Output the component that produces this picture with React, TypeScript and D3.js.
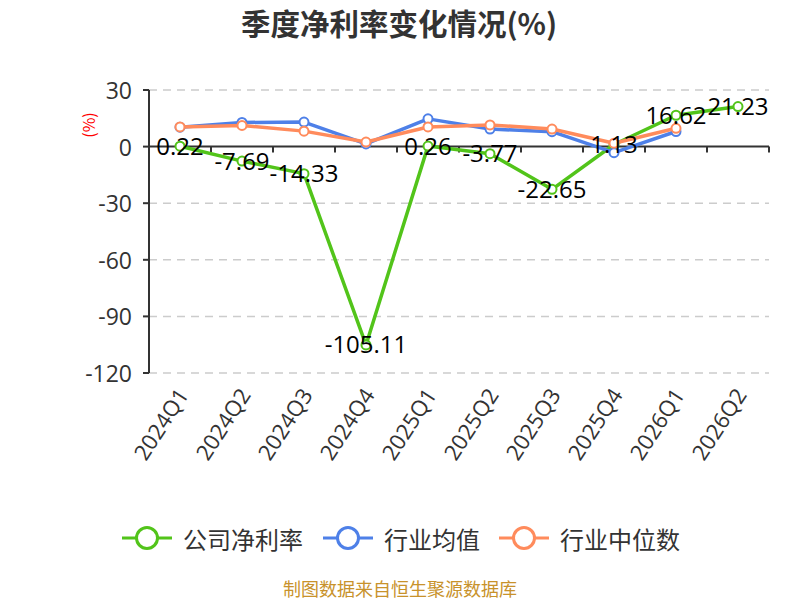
import * as d3 from "d3";

const QUARTERS = ["2024Q1", "2024Q2", "2024Q3", "2024Q4", "2025Q1", "2025Q2", "2025Q3", "2025Q4", "2026Q1", "2026Q2"];
const COMPANY = [0.22, -7.69, -14.33, -105.11, 0.26, -3.77, -22.65, 1.13, 16.62, 21.23];
const INDUSTRY_AVG: (number | null)[] = [10.3, 12.8, 13.0, 1.4, 14.7, 9.3, 7.9, -3.2, 8.0, null];
const INDUSTRY_MEDIAN: (number | null)[] = [10.4, 11.2, 8.2, 2.4, 10.4, 11.5, 9.3, 1.8, 9.7, null];
const Y_TICKS = [30, 0, -30, -60, -90, -120];

const SERIES = [
  { name: "公司净利率", values: COMPANY as (number | null)[], color: "#52c41a" },
  { name: "行业均值", values: INDUSTRY_AVG, color: "#4e80e8" },
  { name: "行业中位数", values: INDUSTRY_MEDIAN, color: "#ff8b5c" },
];

const FONT = "'Noto Sans CJK SC', 'Noto Sans', sans-serif";
const NUM_FONT = "'Open Sans', 'Noto Sans CJK SC', sans-serif";

export default function App() {
  const left = 149;
  const right = 769;
  const x = d3.scaleBand<string>().domain(QUARTERS).range([left, right]);
  const y = d3.scaleLinear().domain([-120, 30]).range([373, 90]);
  const cx = (q: string) => (x(q) ?? 0) + x.bandwidth() / 2;

  const line = d3
    .line<[string, number | null]>()
    .defined(d => d[1] !== null)
    .x(d => cx(d[0]))
    .y(d => y(d[1] as number));

  const legendItems = [
    { x: 122, textX: 183 },
    { x: 323, textX: 384 },
    { x: 499, textX: 560 },
  ];

  return (
    <svg width={800} height={600} style={{ position: "absolute", left: 0, top: 0, background: "#fff" }} fontFamily={FONT}>
      <text x={399} y={22} textAnchor="middle" dominantBaseline="central" fontSize={29.5} fontWeight="bold" fill="#333">
        季度净利率变化情况(%)
      </text>

      <text
        transform="translate(88,125) rotate(-90)"
        textAnchor="middle"
        dominantBaseline="central"
        fontSize={16}
        fill="#ff0000"
      >
        (%)
      </text>

      {/* grid */}
      {Y_TICKS.filter(t => t !== 0).map(t => (
        <line key={t} x1={left} x2={right} y1={y(t)} y2={y(t)} stroke="#ccc" strokeWidth={1.5} strokeDasharray="8,6" />
      ))}

      {/* y axis */}
      <line x1={left} x2={left} y1={y(30)} y2={y(-120)} stroke="#333" strokeWidth={2} />
      {Y_TICKS.map(t => (
        <g key={t}>
          <line x1={left - 6} x2={left} y1={y(t)} y2={y(t)} stroke="#333" strokeWidth={2} />
          <text x={left - 17} y={y(t)} textAnchor="end" dominantBaseline="central" fontSize={23} fontFamily={NUM_FONT} fill="#333">
            {t}
          </text>
        </g>
      ))}

      {/* x axis at zero */}
      <line x1={left} x2={right} y1={y(0)} y2={y(0)} stroke="#333" strokeWidth={2} />
      {d3.range(QUARTERS.length + 1).map(i => {
        const xx = left + i * x.bandwidth();
        return <line key={i} x1={xx} x2={xx} y1={y(0)} y2={y(0) + 6} stroke="#333" strokeWidth={2} />;
      })}
      {QUARTERS.map(q => (
        <text
          key={q}
          transform={`translate(${cx(q) + 2},${y(-120) + 17}) rotate(-57)`}
          textAnchor="end"
          dominantBaseline="central"
          fontSize={22}
          fontFamily={NUM_FONT}
          fill="#333"
        >
          {q}
        </text>
      ))}

      {/* lines */}
      {SERIES.map(s => {
        const pts = QUARTERS.map((q, i) => [q, s.values[i]] as [string, number | null]);
        return (
          <g key={s.name}>
            <path d={line(pts) ?? ""} fill="none" stroke={s.color} strokeWidth={3.5} strokeLinejoin="round" />
            {pts
              .filter(p => p[1] !== null)
              .map(p => (
                <circle key={p[0]} cx={cx(p[0])} cy={y(p[1] as number)} r={4.5} fill="#fff" stroke={s.color} strokeWidth={2} />
              ))}
          </g>
        );
      })}

      {/* company labels */}
      {COMPANY.map((v, i) => (
        <text
          key={i}
          x={cx(QUARTERS[i])}
          y={y(v) - 1}
          textAnchor="middle"
          dominantBaseline="central"
          fontSize={24}
          fontFamily={NUM_FONT}
          fill="#000"
        >
          {v.toFixed(2)}
        </text>
      ))}

      {/* legend */}
      {SERIES.map((s, i) => (
        <g key={s.name}>
          <line x1={legendItems[i].x} x2={legendItems[i].x + 50} y1={538} y2={538} stroke={s.color} strokeWidth={3} />
          <circle cx={legendItems[i].x + 25} cy={538} r={10.5} fill="#fff" stroke={s.color} strokeWidth={3} />
          <text x={legendItems[i].textX} y={538} dominantBaseline="central" fontSize={24} fill="#333">
            {s.name}
          </text>
        </g>
      ))}

      <text x={400} y={588} textAnchor="middle" dominantBaseline="central" fontSize={18} fill="#c8922b">
        制图数据来自恒生聚源数据库
      </text>
    </svg>
  );
}
